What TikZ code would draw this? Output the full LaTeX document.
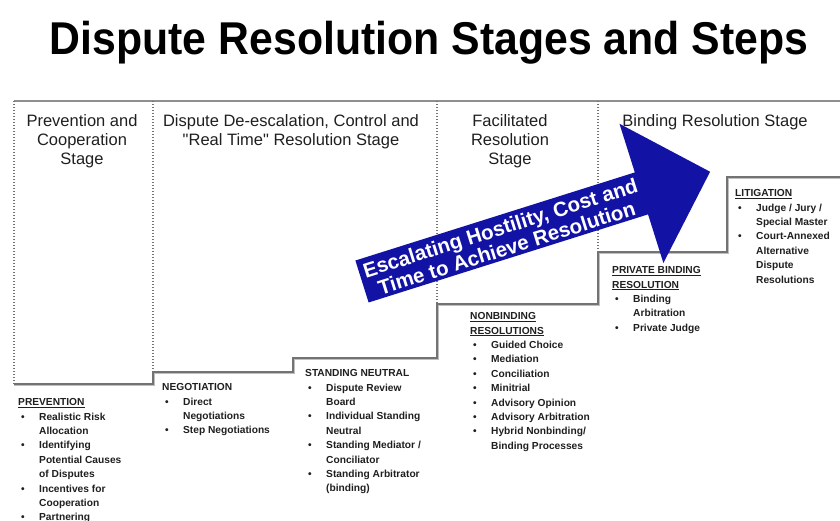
\documentclass[tikz,border=0pt]{standalone}
\usepackage{fontspec}
\setmainfont{Liberation Sans}
\newfontfamily\qfont{Liberation Sans}
\definecolor{arrowblue}{RGB}{18,18,165}
\definecolor{framegray}{RGB}{115,115,115}
\newcommand\bi{\makebox[21pt][l]{\hspace{3pt}\textbullet}}
\newcommand\ti{\hspace*{21pt}}
\newcommand\sq{{\qfont"}}
\begin{document}
\begin{tikzpicture}[x=1pt,y=-1pt,
  titlestyle/.style={anchor=base, inner sep=0, xscale=0.93, font=\fontsize{46}{50}\selectfont\bfseries},
  topline/.style={draw=framegray!80, line width=2.2pt},
  divider/.style={draw=framegray, line width=1.1pt, dash pattern=on 1pt off 2pt},
  stair/.style={draw=framegray, line width=1.6pt},
  stairshadow/.style={draw=black!25, line width=1.4pt},
  hdr/.style={anchor=north, inner sep=0, align=center, text=black!88, font=\fontsize{16.5}{19}\selectfont},
  lst/.style={anchor=north west, inner sep=0, align=left, text=black!88, font=\fontsize{10.2}{14.4}\selectfont\bfseries},
  arrowtext/.style={inner sep=0, align=center, text=white, rotate=17.5, font=\fontsize{20.5}{21}\selectfont\bfseries}]
\useasboundingbox (0,0) rectangle (840,521);
\node[titlestyle] (title) at (429,55) {Dispute Resolution Stages and Steps};
% frame
\draw[topline] (14,101) -- (840,101);
\draw[divider] (14,101) -- (14,384);
\draw[divider] (153,101) -- (153,372);
\draw[divider] (437,101) -- (437,304);
\draw[divider] (598,101) -- (598,252);
\draw[stairshadow] (14,385.5) -| (154.5,373.5) -| (294.5,359.5) -| (438.5,305.5) -| (599.5,253.5) -| (728.5,178.5) -- (840,178.5);
\draw[stair] (14,384) -| (153,372) -| (293,358) -| (437,304) -| (598,252) -| (727,177) -- (840,177);
% stage headers
\node[hdr] (h1) at (82,112.7) {\strut Prevention and\\Cooperation\\Stage};
\node[hdr] (h2) at (291,112.7) {\strut Dispute De-escalation, Control and\\\sq Real Time\sq{} Resolution Stage};
\node[hdr] (h3) at (510,112.7) {\strut Facilitated\\Resolution\\Stage};
\node[hdr] (h4) at (715,112.7) {\strut Binding Resolution Stage};
% lists
\node[lst] (l1) at (18,395.4) {\strut\underline{PREVENTION}\\\bi Realistic Risk\\\ti Allocation\\\bi Identifying\\\ti Potential Causes\\\ti of Disputes\\\bi Incentives for\\\ti Cooperation\\\bi Partnering};
\node[lst] (l2) at (162,380.4) {\strut NEGOTIATION\\\bi Direct\\\ti Negotiations\\\bi Step Negotiations};
\node[lst] (l3) at (305,366.4) {\strut STANDING NEUTRAL\\\bi Dispute Review\\\ti Board\\\bi Individual Standing\\\ti Neutral\\\bi Standing Mediator /\\\ti Conciliator\\\bi Standing Arbitrator\\\ti (binding)};
\node[lst] (l4) at (470,309.4) {\strut\underline{NONBINDING}\\\underline{RESOLUTIONS}\\\bi Guided Choice\\\bi Mediation\\\bi Conciliation\\\bi Minitrial\\\bi Advisory Opinion\\\bi Advisory Arbitration\\\bi Hybrid Nonbinding/\\\ti Binding Processes};
\node[lst] (l5) at (612,263.4) {\strut\underline{PRIVATE BINDING}\\\underline{RESOLUTION}\\\bi Binding\\\ti Arbitration\\\bi Private Judge};
\node[lst] (l6) at (735,186.4) {\strut\underline{LITIGATION}\\\bi Judge / Jury /\\\ti Special Master\\\bi Court-Annexed\\\ti Alternative\\\ti Dispute\\\ti Resolutions};
% escalation arrow
\begin{scope}[shift={(362,281.5)}, rotate=17.5]
\fill[arrowblue] (0,-22) -- (293,-22) -- (293,-73) -- (365,0) -- (293,73) -- (293,22) -- (0,22) -- cycle;
\node[arrowtext] (esc) at (148,1) {Escalating Hostility, Cost and\\Time to Achieve Resolution};
\end{scope}
\end{tikzpicture}
\end{document}
